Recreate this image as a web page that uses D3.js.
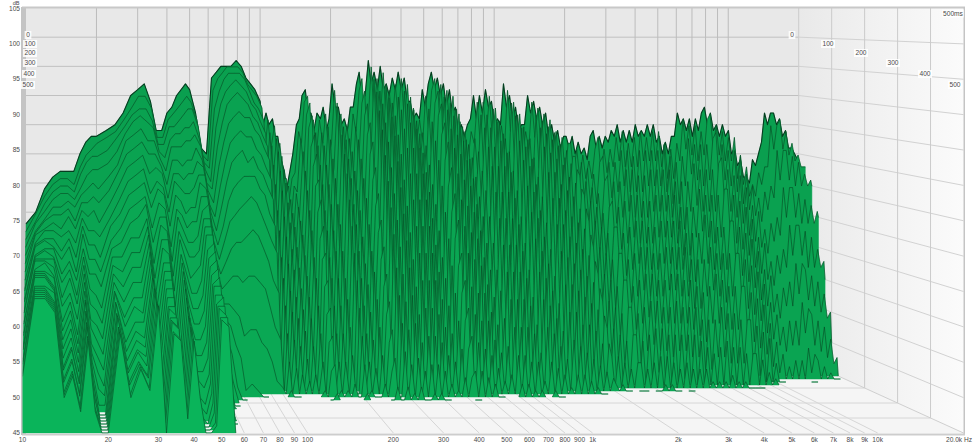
<!DOCTYPE html>
<html><head><meta charset="utf-8">
<style>html,body{margin:0;padding:0;background:#fff}svg{display:block}text{font-family:"Liberation Sans",Arial,sans-serif}</style>
<script src="https://cdn.jsdelivr.net/npm/d3@7"></script></head><body>
<svg id="c" width="975" height="444"></svg>
<script>
const dbTicks=[45,50,55,60,65,70,75,80,85,90,95,100,105];
const gridFreqs=[20,30,40,50,60,70,80,90,100,200,300,400,500,600,700,800,900,1000,2000,3000,4000,5000,6000,7000,8000,9000,10000];
const freqTickValues=[10,20,30,40,50,60,70,80,90,100,200,300,400,500,600,700,800,900,1000,2000,3000,4000,5000,6000,7000,8000,9000,10000];
const freqTickLabels=["10","20","30","40","50","60","70","80","90","100","200","300","400","500","600","700","800","900","1k","2k","3k","4k","5k","6k","7k","8k","9k","10k"];
const timeTicks=[0,100,200,300,400,500];
const sliceTimes=[0,20,40,60,80,100,120,140,160,180,200,220,240,260,280,300,320,340,360,380,400,420,440,460,480,500];
const lowFreqs=[10,11,12,13,14,15,16,17,18,19,20,22,24,26,28,30,32,34,36,38,40,42,44,46,48,50,53,56,59,62,65,68,71,75,79,83,87,91,95,100];
const midFreqs=[103,106,109,113,116,119,123,127,130,134,138,143,147,151,156,160,165,170,175,181,186,192,197,203,209,216,222,229,236,243,250,258,265,273,281,290,298,307,317,326,336,346,356,367,378,389,401,413,425,438,451,465,479,493,508,523,539,555,572,589,607,625,644,663,683,703,724,746,769,792,816,840,865,891,918,946,974,1003,1033,1064,1096,1129,1163,1198,1234,1271,1309,1348,1389,1431,1474,1518,1564,1610,1659,1708,1760,1812,1867,1923,1980];
const highFreqs=[2030,2091,2154,2218,2285,2353,2424,2497,2572,2649,2728,2810,2894,2981,3071,3163,3258,3355,3456,3560,3667,3777,3890,4007,4127,4251,4378,4510,4645,4784,4928,5076,5228,5385,5547,5713,5884,6061,6243,6430,6623,6822,7026,7237,7454,7678,7908,8146,8390,8642,8901,9168,9443,9727,10018,10319,10628,10947,11276,11614,11963,12322,12691,13072,13464,13868,14284,14713,15154,15609,16077,16559,17056,17568,18095,18638,19197,19773,20000];
// dB at each frequency, one entry per slice time, until it falls through the 45 dB floor
const lowDecay=[
[68,67,66,65,64,63,62,61,60,60,59,59,58,58,57,57,56,56,55,55,55,54,54,54,53,53],
[70,70,69,69,68,68,68,67,67,67,66,66,66,66,65,65,65,65,65,64,64,64,64,64,64,64],
[74,73,72,71,70,70,69,69,68,68,67,67,66,66,66,65,65,65,65,64,64,64,64,64,64,64],
[76,75,74,73,72,71,70,69,68,67,67,66,66,65,64,64,63,63,63,63,62,62,62,62,62,62],
[77,76,75,74,72,71,69,68,66,65,63,62,60,59,57,56,55,54,53,52,52,51,51,50,50,50],
[77,76,75,74,73,72,71,69,68,67,65,64,63,61,60,59,58,57,56,55,55,54,54,53,53,53],
[77,75,74,73,72,70,69,67,65,63,62,60,59,57,55,54,53,52,51,50,50,49,49,48,48,48],
[80,78,77,75,74,73,72,71,70,69,67,66,65,64,63,62,61,61,60,60,59,59,59,58,58,58],
[82,80,79,77,75,73,71,69,67,65,63,61,59,57,56,54,53,52,51,50,50,49,49,48,48,48],
[83,81,80,78,76,74,72,69,67,65,63,60,58,56,54,52,50,48,46,45],
[83,82,80,78,75,73,70,68,65,63,61,58,56,54,52,50,48,47,46,45],
[84,83,81,79,77,75,73,71,70,68,67,66,65,64,63,62,62,61,61,60,60,60,59,59,59,59],
[85,84,83,81,79,78,76,74,72,70,68,66,64,62,60,58,57,55,54,53,52,52,51,51,50,50],
[87,86,85,84,83,81,79,77,75,73,71,69,67,65,63,61,60,58,57,56,55,55,54,54,54,54],
[90,88,87,86,84,82,80,78,76,74,72,69,67,65,63,61,59,58,56,55,54,53,52,52,51,51],
[91,90,88,87,85,83,81,79,77,75,74,72,71,70,69,68,67,66,65,65,64,64,64,63,63,63],
[92,90,88,86,83,81,78,75,73,70,68,65,63,61,59,57,55,53,52,50,49,48,47,46,46,45],
[89,88,86,85,83,81,79,77,76,74,72,71,69,68,66,65,64,63,62,61,61,60,60,60,59,59],
[84,83,82,81,80,79,78,76,75,73,72,70,69,67,66,65,64,63,62,61,60,60,59,59,58,58],
[84,83,82,80,78,76,74,72,70,67,65,63,61,59,57,55,54,52,51,50,49,48,48,47,47,47],
[87,86,85,83,82,80,78,77,75,73,72,70,69,67,66,65,64,63,62,61,60,60,59,59,58,58],
[88,87,85,84,82,80,78,76,74,72,70,68,66,64,62,60,58,57,55,54,53,52,51,51,50,50],
[90,88,86,84,82,79,77,75,72,70,68,66,63,61,59,57,55,53,51,50,48,47,46,45],
[91,89,87,85,83,80,78,75,73,71,68,66,64,61,59,57,55,53,51,49,47,46,45],
[92,90,88,85,83,80,78,76,73,71,69,67,65,63,61,59,57,55,53,51,50,49,48,47,46,46],
[91,89,88,86,84,82,80,78,77,75,73,72,71,70,68,67,66,65,64,64,63,62,62,62,61,61],
[87,86,85,83,82,80,79,78,76,75,74,72,71,70,69,68,67,66,65,64,63,63,62,61,61,60],
[81,80,79,78,76,75,73,72,70,68,66,64,62,60,58,56,54,53,52,50,49,47,45],
[80,79,78,76,75,73,71,69,67,65,63,61,59,57,55,52,49,46],
[93,91,88,85,82,79,76,73,70,68,65,62,59,56,52,48,45],
[94,93,91,89,86,83,80,77,74,71,67,63,58,53,47],
[95,94,93,91,89,86,83,80,76,72,68,63,57,51,45],
[95,95,94,92,90,87,84,81,77,73,68,62,54,46],
[95,95,94,93,91,88,85,82,78,74,69,63,55,47],
[96,95,94,92,90,87,84,80,78,75,70,63,55,46],
[95,94,93,91,89,87,84,81,78,74,69,62,53,45],
[93,92,91,89,87,85,82,79,76,72,67,61,52],
[92,91,89,88,86,84,81,78,75,70,65,58,50],
[91,90,88,86,84,82,79,76,72,68,62,55,47],
[89,88,86,84,82,80,77,74,70,66,60,53,46]];
const midDecay=[
[85,81,77,72,68,64,60,56,52,48,45],[87,86,84,82,79,76,72,69,65,62,58,54,50,46],[85,81,76,71,67,63,59,55,51,47],[86,85,83,81,78,75,71,68,64,60,57,53,49,45],[83,79,75,71,67,63,59,55,51,47],[83,82,80,78,76,73,70,66,63,59,56,52,48],[79,76,73,69,65,61,58,54,50,46],[77,76,75,73,71,69,66,63,60,57,54,50,47],[74,72,69,66,63,60,57,54,51,47],[77,76,75,74,72,70,68,65,62,59,56,52,48],
[80,77,74,70,66,62,59,55,51,47],[85,84,83,81,78,75,72,69,65,62,58,54,50,46],[86,82,78,73,69,65,61,57,53,49,45],[90,89,87,85,82,79,76,72,68,65,61,57,53,49,45],[91,90,89,87,84,81,77,74,70,66,62,58,54,50,46],[87,83,78,73,69,65,61,57,53,48,45],[87,86,84,82,79,76,72,69,65,62,58,54,50,46],[84,80,75,71,67,63,59,55,51,47],[87,86,84,82,79,76,73,69,66,62,58,54,50,46],[86,82,77,73,68,64,60,56,52,48,45],
[88,87,85,83,80,77,73,70,66,62,59,55,51,47],[84,80,75,71,67,63,59,55,51,47],[86,82,78,74,69,65,61,57,53,49,45],[92,91,89,87,84,81,78,74,70,66,62,58,54,50,46],[88,84,79,75,70,66,62,58,54,49,45],[88,87,85,83,80,77,73,70,66,62,58,54,50,46],[85,81,76,72,68,64,60,56,52,48],[86,85,83,81,78,75,72,68,64,61,57,53,49,45],[84,80,75,71,67,63,59,55,51,47],[88,87,85,83,80,77,74,70,66,63,59,55,51,47],
[88,84,79,74,70,66,62,58,54,49,45],[92,91,89,87,84,81,77,73,69,65,61,57,53,49,45],[94,93,91,89,86,83,79,75,71,67,63,59,55,51,47],[89,85,80,75,70,66,62,58,54,50,46],[90,85,80,75,70,66,62,58,53,49,45],[96,95,93,91,88,85,81,77,73,69,64,60,56,52,47],[92,87,82,76,71,67,63,59,54,50,46],[94,93,91,89,86,83,79,75,71,67,63,59,55,50,46],[91,86,81,76,71,67,63,58,54,50,46],[95,94,92,90,87,84,80,76,72,68,64,60,56,51,47],
[91,86,81,76,71,67,62,58,54,50,46],[92,91,89,87,84,81,77,73,69,65,61,57,53,49,45],[90,85,80,75,70,66,62,58,54,50,46],[93,92,90,88,85,82,78,74,70,66,62,58,54,50,46],[91,86,81,76,71,67,63,59,54,50,46],[94,93,91,89,86,82,78,74,70,66,62,58,54,50,46],[91,86,81,76,71,67,62,58,54,50,45],[93,92,90,88,85,82,78,74,70,66,62,57,53,49,45],[89,85,80,75,70,66,62,58,53,49,45],[89,88,86,84,81,78,75,71,67,63,59,55,51,47],
[86,82,78,73,69,65,61,57,53,49,45],[87,86,84,82,79,76,73,69,65,62,58,54,50,46],[86,82,77,73,69,64,60,56,52,48],[91,90,88,86,83,80,76,72,68,64,60,56,52,48],[88,84,79,74,70,65,61,57,53,49,45],[92,91,89,87,84,80,76,72,68,64,60,56,52,48],[94,93,91,89,86,83,79,75,71,66,62,58,54,49,45],[91,86,81,76,71,66,62,58,54,49,45],[93,92,90,88,85,82,78,74,70,66,61,57,53,49],[90,85,80,75,70,66,62,57,53,49,45],
[92,91,89,87,84,81,77,73,69,65,60,56,52,48],[88,84,79,74,69,65,61,57,53,48],[91,90,88,86,83,80,76,72,68,64,60,56,51,47],[87,83,78,73,69,65,61,56,52,48],[88,87,85,83,80,77,73,69,65,61,57,53,49,45],[84,80,76,72,68,64,60,56,52,47],[85,84,82,80,77,74,71,67,63,59,55,51,47],[83,79,75,71,67,63,59,55,51,46],[85,84,83,81,78,75,71,67,63,60,56,52,48],[86,82,77,73,68,64,60,56,52,48],
[90,89,87,85,82,79,75,71,67,63,59,55,51,47],[86,82,77,73,68,64,60,56,52,47],[90,89,87,85,82,79,75,71,67,63,59,55,51,47],[87,83,78,73,68,64,60,56,52,47],[91,90,88,86,83,79,75,71,67,63,59,55,50,46],[88,83,78,73,68,64,60,56,52,48],[89,88,86,84,81,78,74,70,66,62,58,54,50,46],[85,81,76,71,67,63,59,55,51,46],[86,85,83,81,78,75,71,67,63,59,55,51,47],[85,81,76,72,67,63,59,55,50,46],
[92,91,89,87,83,80,76,72,68,63,59,55,50,46],[88,84,79,74,69,64,60,56,51,47],[90,89,87,85,82,79,75,71,66,62,58,54,49,45],[86,82,77,72,68,63,59,55,51,46],[88,87,85,83,80,76,72,68,64,60,56,52,48],[84,80,76,71,67,63,58,54,50,46],[85,84,83,80,77,74,70,66,62,58,54,50,46],[85,81,76,71,67,62,58,54,50,45],[90,89,87,85,82,78,74,70,66,61,57,53,48],[87,83,78,72,68,63,59,55,50,46],
[89,88,86,84,81,78,74,70,65,61,57,52,48],[86,82,77,72,67,63,59,54,50,46],[88,87,85,83,80,76,72,68,64,60,55,51,47],[85,81,76,71,67,62,58,54,50,45],[87,86,84,82,79,75,71,67,63,59,55,50,46],[83,79,75,70,66,62,57,53,49,45],[85,84,82,80,77,74,70,66,62,58,54,49,45],[82,78,74,70,65,61,57,53,48],[84,83,81,79,76,72,69,65,61,57,52,48],[81,77,73,69,65,61,57,52,48],
[83,82,80,78,75,72,68,64,60,56,52,47]];
const highDecay=[
[83,82,80,77,74,70,66,62,58,54,50,46],[81,77,73,70,66,62,58,54,50,46],[83,81,79,76,73,70,66,62,58,54,50,46],[80,76,73,69,65,61,57,53,49,45],[82,80,78,75,72,69,65,61,57,53,49,45],[80,76,72,68,64,60,56,52,48],[81,79,77,74,71,68,64,60,56,52,48],[79,76,72,68,64,60,56,52,47],[83,81,79,76,72,69,65,61,57,53,49,45],[84,83,80,77,73,69,65,61,57,53,49,45],
[81,77,73,69,65,61,57,53,49,45],[83,81,79,76,72,68,64,60,56,52,48],[81,77,73,69,65,61,57,53,48],[83,81,79,76,73,69,65,61,57,53,49,45],[82,78,74,70,66,62,58,54,50,46],[84,83,81,78,74,70,66,62,58,54,50,46],[83,79,75,71,67,63,59,55,51,47],[85,84,81,78,74,70,66,62,58,54,50,46],[82,78,74,70,66,62,58,54,50,46],[84,82,80,77,73,69,65,61,57,53,49,45],
[82,78,74,70,66,62,58,54,50,45],[84,83,81,77,73,69,65,61,57,53,48],[82,78,74,70,66,62,58,54,49,45],[85,84,81,78,74,70,66,62,58,53,49,45],[83,79,75,71,67,63,59,54,50,46],[84,83,81,78,74,70,66,62,57,53,48],[83,79,75,71,67,63,59,54,50,45],[85,84,81,78,74,70,66,61,57,53,48],[83,79,75,71,67,62,58,54,49,45],[85,84,82,78,74,70,66,61,57,52,48],
[82,78,74,70,66,62,58,53,49],[83,82,80,76,72,68,64,60,55,51,46],[80,76,72,68,64,60,56,52,47],[82,81,79,76,72,68,64,59,55,50,46],[80,76,72,68,64,60,56,51,47],[83,82,80,76,72,68,64,60,55,51,46],[83,79,75,71,67,63,58,54,49],[87,86,83,79,75,71,66,62,57,52,47],[85,81,77,72,68,63,59,54,49],[86,85,82,78,74,70,65,61,56,51,46],
[84,80,76,71,67,62,58,53,48],[86,85,82,78,74,69,65,60,56,51,46],[83,79,75,71,66,62,57,53,48],[86,84,82,78,74,69,65,60,55,50,45],[84,80,76,71,67,62,58,53,48],[87,86,83,79,75,70,65,60,55,50,45],[88,87,84,80,75,70,65,60,55,50,45],[85,81,76,72,67,62,57,52,47],[87,85,82,78,74,69,64,59,54,49],[84,80,76,71,66,61,56,51,46],
[85,84,81,77,73,68,63,58,53,47],[83,79,75,70,65,60,55,50,45],[85,83,81,77,72,67,62,57,52,46],[83,79,74,69,64,59,54,49],[84,83,80,75,70,65,60,54,48],[80,76,72,67,62,57,52,47],[81,80,77,72,67,62,57,51,45],[78,75,71,66,61,56,51,46],[79,78,75,71,66,61,55,49],[76,73,70,65,60,55,50,45],
[76,75,73,68,63,58,53,47],[75,73,69,64,59,54,49],[79,77,74,69,64,59,54,48],[78,75,71,66,61,56,50,45],[80,78,75,70,65,60,54,48],[82,78,73,67,62,56,50,45],[87,85,81,75,69,63,57,50,45],[85,81,76,70,64,58,52,46],[87,85,81,75,69,63,56,49],[87,86,81,75,69,62,55,48],
[85,81,76,70,64,57,50,45],[86,84,80,74,68,61,54,47],[83,80,75,69,62,56,49],[84,82,79,73,67,60,53,46],[81,79,75,69,62,55,48],[81,80,77,72,65,58,51,45],[80,78,75,69,62,54,47],[79,78,76,71,63,55,48],[79,78,75,70,60,50]];

const freqs=lowFreqs.concat(midFreqs,highFreqs), decay=lowDecay.concat(midDecay,highDecay);
const FLOOR=45;
const xBack=d3.scaleLog().domain([10,20000]).range([26,798.7]);
const xFront=d3.scaleLog().domain([10,20000]).range([22.5,963.5]);
const yBack=d3.scaleLinear().domain([45,105]).range([358,8]);
const yFront=d3.scaleLinear().domain([45,105]).range([433,8.5]);
const depth=d3.scaleLinear().domain([0,500]).range([0,1]);
const px=(f,t)=>d3.interpolateNumber(xBack(f),xFront(f))(depth(t));
const py=(db,t)=>d3.interpolateNumber(yBack(db),yFront(db))(depth(t));

const svg=d3.select("#c");
const defs=svg.append("defs");
const g1=defs.append("linearGradient").attr("id","wall");
g1.append("stop").attr("offset",0).attr("stop-color","#e9e9e9");
g1.append("stop").attr("offset",1).attr("stop-color","#fbfbfb");
const poly=(pts,fill)=>svg.append("polygon").attr("points",pts.map(p=>p.join(",")).join(" ")).attr("fill",fill);
const L=xBack(10),R=xBack(20000),FR=xFront(20000),FL=xFront(10);
poly([[L,8],[R,8],[R,yBack(45)],[L,yBack(45)]],"#e8e8e8");
poly([[R,8],[FR,8],[FR,yFront(45)],[R,yBack(45)]],"url(#wall)");
poly([[L,yBack(45)],[R,yBack(45)],[FR,yFront(45)],[FL,yFront(45)]],"#f5f5f5");
const seg=(x1,y1,x2,y2,c,w)=>svg.append("line").attr("x1",x1).attr("y1",y1).attr("x2",x2).attr("y2",y2).attr("stroke",c).attr("stroke-width",w||1);
dbTicks.slice(1,-1).forEach(d=>{
  seg(L,yBack(d),R,yBack(d),"#c0c0c0");
  seg(R,yBack(d),FR,yFront(d),"#d2d2d2");
});
gridFreqs.forEach(f=>{
  seg(xBack(f),8,xBack(f),yBack(45),"#bcbcbc");
  seg(xBack(f),yBack(45),xFront(f),yFront(45),"#d6d6d6");
});
timeTicks.slice(0,-1).forEach(t=>{
  seg(px(20000,t),8,px(20000,t),py(45,t),"#cbcbcb");
  seg(px(10,t),py(45,t),px(20000,t),py(45,t),"#d6d6d6");
});
seg(R,yBack(45),FR,yFront(45),"#cfcfcf");
svg.append("rect").attr("x",22).attr("y",7).attr("width",4).attr("height",427).attr("fill","#c4c4c4");
svg.append("rect").attr("x",22).attr("y",6.5).attr("width",943).attr("height",2).attr("fill","#c8c8c8");
svg.append("rect").attr("x",963.5).attr("y",7).attr("width",1.5).attr("height",428).attr("fill","#c4c4c4");

// slices, back to front
const color=d3.scaleLinear().domain([0,500]).range(["#0a9f4f","#0ab45a"]);
sliceTimes.forEach((t,r)=>{
  const pts=freqs.map((f,c)=>{
    let v=decay[c][r];
    if(v===undefined){
      const a=c>0?decay[c-1][r]:undefined,b=c<freqs.length-1?decay[c+1][r]:undefined;
      if(a!==undefined||b!==undefined) v=FLOOR;
    }
    return {f,v};
  });
  const def=d=>d.v!==undefined;
  const area=d3.area().defined(def).x(d=>px(d.f,t)).y0(py(FLOOR,t)).y1(d=>py(d.v,t));
  const line=d3.line().defined(def).x(d=>px(d.f,t)).y(d=>py(d.v,t));
  svg.append("path").attr("d",area(pts)).attr("fill",color(t)).attr("stroke",color(t)).attr("stroke-width",.5);
  svg.append("path").attr("d",line(pts)).attr("fill","none").attr("stroke",r===0?"#063d20":"#07401f").attr("stroke-width",r===0?1.1:0.55).attr("stroke-linejoin","round");
});
svg.append("rect").attr("x",22).attr("y",433.5).attr("width",943).attr("height",2).attr("fill","#cdcdcd");
svg.append("rect").attr("x",21).attr("y",7).attr("width",1.5).attr("height",428).attr("fill","#c4c4c4");

// text
const txt=(x,y,s,anchor,size)=>svg.append("text").attr("x",x).attr("y",y).attr("text-anchor",anchor||"middle").attr("font-size",size||6.6).attr("fill","#4a4a4a").text(s);
dbTicks.forEach(d=>txt(20,yFront(d)+2.2,String(d),"end"));
txt(19.5,5,"dB","end",5.6);
freqTickValues.forEach((f,i)=>txt(xFront(f),441.5,freqTickLabels[i]));
txt(972,441.5,"20.0k Hz","end");
const box=(cx,cy,s)=>{
  const w=s.length*3.7+3;
  svg.append("rect").attr("x",cx-w/2).attr("y",cy-4).attr("width",w).attr("height",8).attr("fill","#fff").attr("fill-opacity",.85);
  txt(cx,cy+2.3,s);
};
const labelY=d3.scaleLinear().domain(timeTicks).range([35,44,53,63,74,85]);
const labelXLeft=d3.scaleLinear().domain(timeTicks).range([28,30,30,30,29,28]);
const labelXRight=d3.scaleLinear().domain(timeTicks).range([792,828,861,893,925,955]);
timeTicks.forEach(t=>{
  box(labelXLeft(t),labelY(t),String(t));
  box(labelXRight(t),labelY(t),String(t));
});
box(953,13.5,"500ms");
</script></body></html>
